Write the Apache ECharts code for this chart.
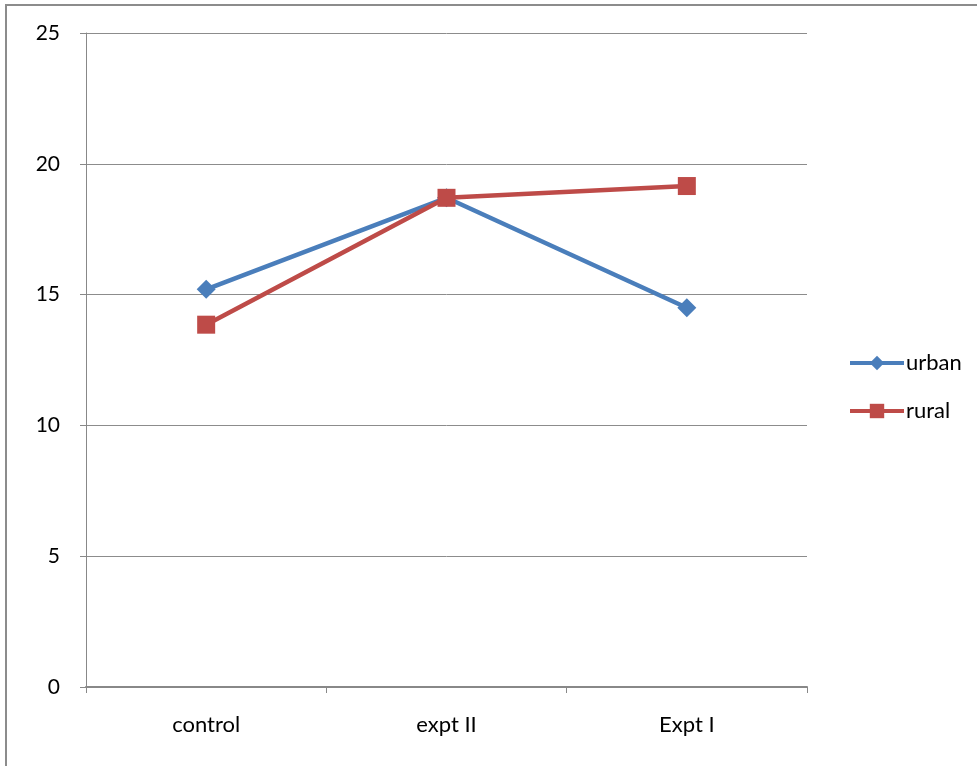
<!DOCTYPE html>
<html><head><meta charset="utf-8">
<script src="https://cdn.jsdelivr.net/npm/echarts@6/dist/echarts.min.js"></script>
<style>html,body{margin:0;padding:0;background:#fff}#c{width:977px;height:766px}</style>
</head><body><div id="c"></div>
<script>
const categories = ['control', 'expt II', 'Expt I'];
const urban = [15.2, 18.7, 14.5];
const rural = [13.85, 18.7, 19.15];
const yTicks = [0, 5, 10, 15, 20, 25];

const FONT = 'Lato';
const chart = echarts.init(document.getElementById('c'), null, {renderer: 'canvas'});
chart.setOption({
  animation: false,
  backgroundColor: '#fff',
  textStyle: {fontFamily: FONT},
  graphic: [{
    type: 'rect', shape: {x: 6, y: 5, width: 1200, height: 1000},
    style: {fill: 'none', stroke: '#8c8c8c', lineWidth: 2}, silent: true
  }],
  grid: {left: 86, right: 170, top: 33, bottom: 79},
  legend: {
    orient: 'vertical', left: 843, top: 347, itemGap: 26,
    itemWidth: 54, itemHeight: 18,
    lineStyle: {width: 4},
    textStyle: {fontFamily: FONT, fontSize: 22, color: '#000', padding: [0, 0, 0, -3]},
    data: ['urban', 'rural']
  },
  xAxis: {
    type: 'category', data: categories, boundaryGap: true,
    axisLine: {lineStyle: {color: '#888', width: 2}},
    axisTick: {show: true, length: 6, lineStyle: {color: '#888', width: 1}},
    axisLabel: {color: '#000', fontSize: 22, fontFamily: FONT, margin: 27},
    splitLine: {show: false}
  },
  yAxis: {
    type: 'value', min: yTicks[0], max: yTicks[yTicks.length - 1], interval: 5,
    axisLine: {show: true, lineStyle: {color: '#888', width: 1}},
    axisTick: {show: true, length: 6, inside: false, lineStyle: {color: '#888'}},
    axisLabel: {color: '#000', fontSize: 21, fontFamily: FONT, margin: 26},
    splitLine: {show: true, lineStyle: {color: '#8c8c8c', width: 1}}
  },
  series: [{
    name: 'urban', type: 'line', data: urban,
    symbol: 'diamond', symbolSize: 19,
    lineStyle: {color: '#4A7EBB', width: 4.5},
    itemStyle: {color: '#4A7EBB'}, z: 2
  }, {
    name: 'rural', type: 'line', data: rural,
    symbol: 'rect', symbolSize: 18,
    lineStyle: {color: '#BE4B48', width: 4.5},
    itemStyle: {color: '#BE4B48'}, z: 3
  }]
});
</script></body></html>
